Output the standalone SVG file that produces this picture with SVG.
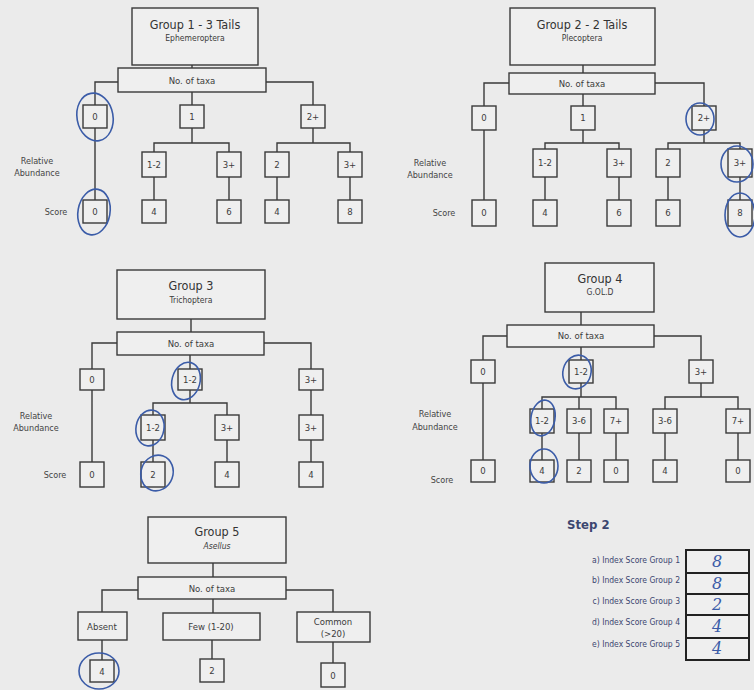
<svg xmlns="http://www.w3.org/2000/svg" width="754" height="690" viewBox="0 0 754 690">
<style>
.bg{fill:#ebebeb}
.b{fill:#efefef;stroke:#3a3a3a;stroke-width:1.4}
.c{fill:none;stroke:#3a3a3a;stroke-width:1.4}
.t{font-family:"DejaVu Sans Condensed","DejaVu Sans",sans-serif;font-size:9.5px;fill:#3c3c3c;text-anchor:middle}
.h{font-family:"DejaVu Sans Condensed","DejaVu Sans",sans-serif;font-size:12.5px;fill:#333;text-anchor:middle}
.s{font-family:"DejaVu Sans Condensed","DejaVu Sans",sans-serif;font-size:8.5px;fill:#3c3c3c;text-anchor:middle}
.lab{font-family:"DejaVu Sans Condensed","DejaVu Sans",sans-serif;font-size:9px;fill:#444;text-anchor:middle}
.st{font-family:"DejaVu Sans Condensed","DejaVu Sans",sans-serif;font-size:8.5px;fill:#3c4670;text-anchor:end}
.pen{fill:none;stroke:#3b5ca8;stroke-width:1.6}
.hw{font-family:"DejaVu Serif",serif;font-style:italic;font-size:16px;fill:#3b5ca8;text-anchor:middle}
</style>
<rect class="bg" x="0" y="0" width="754" height="690"/>

<g id="connectors">
<path class="c" d="M192 65V68 M118 82H95V105 M192 92V105 M266 82H313V105 M95 128V200 M192 128V143 M154 152V143H229V152 M313 128V143 M277 152V143H350V152 M154 177V200 M229 177V200 M277 177V200 M350 177V200"/>
<path class="c" d="M583 65V73 M509 83H484V106 M583 94V106 M655 83H704V106 M484 130V200 M583 130V143 M545 149V143H619V149 M704 130V143 M668 149V143H740V149 M545 177V200 M619 177V200 M668 177V200 M740 177V200"/>
<path class="c" d="M191 319V332 M117 343H92V369 M190 355V369 M264 343H311V369 M92 390V462 M190 390V403 M153 415V403H227V415 M311 390V415 M153 440V462 M227 440V462 M311 440V462"/>
<path class="c" d="M581 312V325 M507 336H483V360 M581 347V360 M654 336H701V360 M483 383V460 M581 383V397 M542 409V397H616V409 M579 397V409 M701 383V397 M665 409V397H738V409 M542 433V460 M579 433V460 M616 433V460 M665 433V460 M738 433V460"/>
<path class="c" d="M213 563V577 M138 590H102V612 M213 599V613 M286 590H333V612 M102 640V660 M212 640V659 M333 642V663"/>
</g>

<!-- Group 1 -->
<g id="g1-title"><rect class="b" x="132" y="8" width="126" height="57"/><text class="h" x="195" y="29">Group 1 - 3 Tails</text><text class="s" x="195" y="41">Ephemeroptera</text></g>
<g id="g1-taxa"><rect class="b" x="118" y="68" width="148" height="24"/><text class="t" x="192" y="84">No. of taxa</text></g>
<g id="g1-n0"><rect class="b" x="83" y="105" width="24" height="23"/><text class="t" x="95" y="120">0</text></g>
<g id="g1-n1"><rect class="b" x="180" y="105" width="24" height="23"/><text class="t" x="192" y="120">1</text></g>
<g id="g1-n2"><rect class="b" x="301" y="105" width="24" height="23"/><text class="t" x="313" y="120">2+</text></g>
<g id="g1-a1"><rect class="b" x="142" y="152" width="24" height="25"/><text class="t" x="154" y="168">1-2</text></g>
<g id="g1-a2"><rect class="b" x="217" y="152" width="24" height="25"/><text class="t" x="229" y="168">3+</text></g>
<g id="g1-a3"><rect class="b" x="265" y="152" width="24" height="25"/><text class="t" x="277" y="168">2</text></g>
<g id="g1-a4"><rect class="b" x="338" y="152" width="24" height="25"/><text class="t" x="350" y="168">3+</text></g>
<g id="g1-s0"><rect class="b" x="83" y="200" width="24" height="23"/><text class="t" x="95" y="215">0</text></g>
<g id="g1-s1"><rect class="b" x="142" y="200" width="24" height="23"/><text class="t" x="154" y="215">4</text></g>
<g id="g1-s2"><rect class="b" x="217" y="200" width="24" height="23"/><text class="t" x="229" y="215">6</text></g>
<g id="g1-s3"><rect class="b" x="265" y="200" width="24" height="23"/><text class="t" x="277" y="215">4</text></g>
<g id="g1-s4"><rect class="b" x="338" y="200" width="24" height="23"/><text class="t" x="350" y="215">8</text></g>
<g id="g1-labels"><text class="lab" x="37" y="164">Relative</text><text class="lab" x="37" y="176">Abundance</text><text class="lab" x="56" y="215">Score</text></g>

<!-- Group 2 -->
<g id="g2-title"><rect class="b" x="510" y="8" width="145" height="57"/><text class="h" x="582" y="29">Group 2 - 2 Tails</text><text class="s" x="582" y="41">Plecoptera</text></g>
<g id="g2-taxa"><rect class="b" x="509" y="73" width="146" height="21"/><text class="t" x="582" y="87">No. of taxa</text></g>
<g id="g2-n0"><rect class="b" x="472" y="106" width="24" height="24"/><text class="t" x="484" y="121">0</text></g>
<g id="g2-n1"><rect class="b" x="571" y="106" width="24" height="24"/><text class="t" x="583" y="121">1</text></g>
<g id="g2-n2"><rect class="b" x="692" y="106" width="24" height="24"/><text class="t" x="704" y="121">2+</text></g>
<g id="g2-a1"><rect class="b" x="533" y="149" width="24" height="28"/><text class="t" x="545" y="166">1-2</text></g>
<g id="g2-a2"><rect class="b" x="607" y="149" width="24" height="28"/><text class="t" x="619" y="166">3+</text></g>
<g id="g2-a3"><rect class="b" x="656" y="149" width="24" height="28"/><text class="t" x="668" y="166">2</text></g>
<g id="g2-a4"><rect class="b" x="728" y="149" width="24" height="28"/><text class="t" x="740" y="166">3+</text></g>
<g id="g2-s0"><rect class="b" x="472" y="200" width="24" height="26"/><text class="t" x="484" y="216">0</text></g>
<g id="g2-s1"><rect class="b" x="533" y="200" width="24" height="26"/><text class="t" x="545" y="216">4</text></g>
<g id="g2-s2"><rect class="b" x="607" y="200" width="24" height="26"/><text class="t" x="619" y="216">6</text></g>
<g id="g2-s3"><rect class="b" x="656" y="200" width="24" height="26"/><text class="t" x="668" y="216">6</text></g>
<g id="g2-s4"><rect class="b" x="728" y="200" width="24" height="26"/><text class="t" x="740" y="216">8</text></g>
<g id="g2-labels"><text class="lab" x="430" y="166">Relative</text><text class="lab" x="430" y="178">Abundance</text><text class="lab" x="444" y="216">Score</text></g>

<!-- Group 3 -->
<g id="g3-title"><rect class="b" x="117" y="270" width="148" height="49"/><text class="h" x="191" y="290">Group 3</text><text class="s" x="191" y="303">Trichoptera</text></g>
<g id="g3-taxa"><rect class="b" x="117" y="332" width="147" height="23"/><text class="t" x="191" y="347">No. of taxa</text></g>
<g id="g3-n0"><rect class="b" x="80" y="369" width="24" height="21"/><text class="t" x="92" y="383">0</text></g>
<g id="g3-n1"><rect class="b" x="178" y="369" width="24" height="21"/><text class="t" x="190" y="383">1-2</text></g>
<g id="g3-n2"><rect class="b" x="299" y="369" width="24" height="21"/><text class="t" x="311" y="383">3+</text></g>
<g id="g3-a1"><rect class="b" x="141" y="415" width="24" height="25"/><text class="t" x="153" y="431">1-2</text></g>
<g id="g3-a2"><rect class="b" x="215" y="415" width="24" height="25"/><text class="t" x="227" y="431">3+</text></g>
<g id="g3-a3"><rect class="b" x="299" y="415" width="24" height="25"/><text class="t" x="311" y="431">3+</text></g>
<g id="g3-s0"><rect class="b" x="80" y="462" width="24" height="25"/><text class="t" x="92" y="478">0</text></g>
<g id="g3-s1"><rect class="b" x="141" y="462" width="24" height="25"/><text class="t" x="153" y="478">2</text></g>
<g id="g3-s2"><rect class="b" x="215" y="462" width="24" height="25"/><text class="t" x="227" y="478">4</text></g>
<g id="g3-s3"><rect class="b" x="299" y="462" width="24" height="25"/><text class="t" x="311" y="478">4</text></g>
<g id="g3-labels"><text class="lab" x="36" y="419">Relative</text><text class="lab" x="36" y="431">Abundance</text><text class="lab" x="55" y="478">Score</text></g>

<!-- Group 4 -->
<g id="g4-title"><rect class="b" x="545" y="263" width="109" height="49"/><text class="h" x="600" y="283">Group 4</text><text class="s" x="600" y="295">G.OL.D</text></g>
<g id="g4-taxa"><rect class="b" x="507" y="325" width="147" height="22"/><text class="t" x="581" y="339">No. of taxa</text></g>
<g id="g4-n0"><rect class="b" x="471" y="360" width="24" height="23"/><text class="t" x="483" y="375">0</text></g>
<g id="g4-n1"><rect class="b" x="569" y="360" width="24" height="23"/><text class="t" x="581" y="375">1-2</text></g>
<g id="g4-n2"><rect class="b" x="689" y="360" width="24" height="23"/><text class="t" x="701" y="375">3+</text></g>
<g id="g4-a1"><rect class="b" x="530" y="409" width="24" height="24"/><text class="t" x="542" y="424">1-2</text></g>
<g id="g4-a2"><rect class="b" x="567" y="409" width="24" height="24"/><text class="t" x="579" y="424">3-6</text></g>
<g id="g4-a3"><rect class="b" x="604" y="409" width="24" height="24"/><text class="t" x="616" y="424">7+</text></g>
<g id="g4-a4"><rect class="b" x="653" y="409" width="24" height="24"/><text class="t" x="665" y="424">3-6</text></g>
<g id="g4-a5"><rect class="b" x="726" y="409" width="24" height="24"/><text class="t" x="738" y="424">7+</text></g>
<g id="g4-s0"><rect class="b" x="471" y="460" width="24" height="22"/><text class="t" x="483" y="474">0</text></g>
<g id="g4-s1"><rect class="b" x="530" y="460" width="24" height="22"/><text class="t" x="542" y="474">4</text></g>
<g id="g4-s2"><rect class="b" x="567" y="460" width="24" height="22"/><text class="t" x="579" y="474">2</text></g>
<g id="g4-s3"><rect class="b" x="604" y="460" width="24" height="22"/><text class="t" x="616" y="474">0</text></g>
<g id="g4-s4"><rect class="b" x="653" y="460" width="24" height="22"/><text class="t" x="665" y="474">4</text></g>
<g id="g4-s5"><rect class="b" x="726" y="460" width="24" height="22"/><text class="t" x="738" y="474">0</text></g>
<g id="g4-labels"><text class="lab" x="435" y="417">Relative</text><text class="lab" x="435" y="430">Abundance</text><text class="lab" x="442" y="483">Score</text></g>

<!-- Group 5 -->
<g id="g5-title"><rect class="b" x="148" y="517" width="138" height="46"/><text class="h" x="217" y="536">Group 5</text><text class="s" x="217" y="549" font-style="italic">Asellus</text></g>
<g id="g5-taxa"><rect class="b" x="138" y="577" width="148" height="22"/><text class="t" x="212" y="592">No. of taxa</text></g>
<g id="g5-absent"><rect class="b" x="78" y="612" width="49" height="28"/><text class="t" x="102" y="630">Absent</text></g>
<g id="g5-few"><rect class="b" x="163" y="613" width="97" height="27"/><text class="t" x="211" y="630">Few (1-20)</text></g>
<g id="g5-common"><rect class="b" x="297" y="612" width="73" height="30"/><text class="t" x="333" y="625">Common</text><text class="t" x="333" y="637">(&gt;20)</text></g>
<g id="g5-s0"><rect class="b" x="90" y="660" width="24" height="22"/><text class="t" x="102" y="675">4</text></g>
<g id="g5-s1"><rect class="b" x="200" y="659" width="24" height="23"/><text class="t" x="212" y="674">2</text></g>
<g id="g5-s2"><rect class="b" x="321" y="663" width="24" height="24"/><text class="t" x="333" y="679">0</text></g>

<!-- Step 2 -->
<g id="step2">
<text x="567" y="529" style="font-family:'DejaVu Sans Condensed','DejaVu Sans',sans-serif;font-size:13px;font-weight:bold;fill:#3c4670">Step 2</text>
<text class="st" x="680" y="563">a) Index Score Group 1</text>
<text class="st" x="680" y="583">b) Index Score Group 2</text>
<text class="st" x="680" y="604">c) Index Score Group 3</text>
<text class="st" x="680" y="625">d) Index Score Group 4</text>
<text class="st" x="680" y="647">e) Index Score Group 5</text>
<rect x="686" y="550" width="63" height="110" fill="#efefef" stroke="#222" stroke-width="2"/>
<path d="M686 573H749 M686 594H749 M686 615H749 M686 638H749" stroke="#222" stroke-width="2" fill="none"/>
<text class="hw" x="717" y="567">8</text>
<text class="hw" x="717" y="589">8</text>
<text class="hw" x="717" y="610">2</text>
<text class="hw" x="717" y="632">4</text>
<text class="hw" x="717" y="654">4</text>
</g>

<!-- handwritten circles -->
<g id="annotations">
<ellipse class="pen" cx="95" cy="117" rx="18" ry="24" transform="rotate(-10 95 117)"/>
<ellipse class="pen" cx="94" cy="212" rx="16" ry="23" transform="rotate(10 94 212)"/>
<ellipse class="pen" cx="700" cy="119" rx="14" ry="16"/>
<ellipse class="pen" cx="737" cy="164" rx="16" ry="18"/>
<ellipse class="pen" cx="740" cy="215" rx="15" ry="22"/>
<ellipse class="pen" cx="186" cy="381" rx="14" ry="19" transform="rotate(15 186 381)"/>
<ellipse class="pen" cx="150" cy="428" rx="14" ry="18" transform="rotate(10 150 428)"/>
<ellipse class="pen" cx="157" cy="473" rx="16" ry="18" transform="rotate(20 157 473)"/>
<ellipse class="pen" cx="577" cy="372" rx="14" ry="17" transform="rotate(15 577 372)"/>
<ellipse class="pen" cx="543" cy="418" rx="12" ry="18" transform="rotate(10 543 418)"/>
<ellipse class="pen" cx="544" cy="466" rx="14" ry="17"/>
<ellipse class="pen" cx="99" cy="671" rx="20" ry="18"/>
</g>
</svg>
